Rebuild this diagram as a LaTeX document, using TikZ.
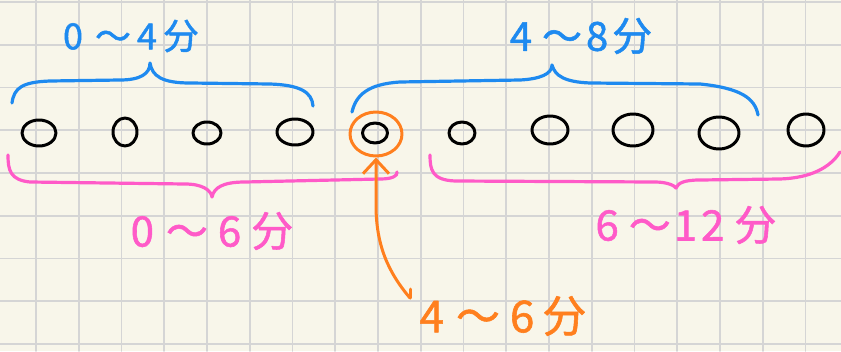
\documentclass[tikz,border=0pt]{standalone}
\usepackage{fontspec}
\newfontfamily\cjk[FakeBold=1.3]{Noto Sans CJK SC}
\usetikzlibrary{arrows.meta,shapes.geometric}
\definecolor{bgc}{HTML}{F8F6EA}
\definecolor{gridc}{HTML}{D5D5D5}
\definecolor{bluec}{HTML}{1E8AF0}
\definecolor{pinkc}{HTML}{FF5AC8}
\definecolor{orangec}{HTML}{FF7F1E}
\begin{document}
\begin{tikzpicture}[x=1pt,y=-1pt,line cap=round,line join=round,
  dot/.style={ellipse,draw=black,line width=3pt,inner sep=0pt},
  bracestroke/.style={line width=3.2pt},
  lbl/.style={inner sep=0pt,font=\cjk\fontsize{#1}{#1}\selectfont},
]
\useasboundingbox (0,0) rectangle (841,351);
\fill[bgc] (0,0) rectangle (841,351);
\foreach \i in {0,...,18} \draw[gridc,line width=1.8pt] ({36+42.75*\i},0) -- ({36+42.75*\i},351);
\foreach \j in {0,...,8} \draw[gridc,line width=1.8pt] (0,{2+42.75*\j}) -- (841,{2+42.75*\j});

% dots
\node[dot,minimum width=34pt,minimum height=26pt] (d1) at (39,133) {};
\node[dot,minimum width=24pt,minimum height=28pt] (d2) at (125,132) {};
\node[dot,minimum width=28pt,minimum height=22pt] (d3) at (207,133) {};
\node[dot,minimum width=36pt,minimum height=26pt] (d4) at (295,132) {};
\node[dot,minimum width=25pt,minimum height=20pt] (d5) at (375,133) {};
\node[dot,minimum width=26pt,minimum height=22pt] (d6) at (462,133) {};
\node[dot,minimum width=36pt,minimum height=28pt] (d7) at (550,130) {};
\node[dot,minimum width=40pt,minimum height=32pt] (d8) at (633,130) {};
\node[dot,minimum width=40pt,minimum height=32pt] (d9) at (719,133) {};
\node[dot,minimum width=36pt,minimum height=32pt] (d10) at (806,130) {};
\node[ellipse,draw=orangec,line width=3pt,inner sep=0pt,minimum width=52pt,minimum height=44pt] (oc) at (376,134) {};

% blue braces
\draw[bluec,bracestroke] (12,103) .. controls (14,88) and (22,82) .. (50,81)
  -- (120,80) .. controls (140,80) and (150,74) .. (150,63)
  .. controls (152,76) and (162,83) .. (190,83) -- (270,84)
  .. controls (300,85) and (312,92) .. (313,106);
\draw[bluec,bracestroke] (352,112) .. controls (356,95) and (368,84) .. (400,82)
  -- (520,80) .. controls (540,79) and (552,74) .. (552,65)
  .. controls (555,76) and (565,82) .. (590,83) -- (700,84)
  .. controls (740,88) and (755,98) .. (758,115);

% pink braces
\draw[pinkc,bracestroke] (8,155) .. controls (8,170) and (10,180) .. (30,182)
  -- (185,184) .. controls (202,184) and (211,190) .. (212,197)
  .. controls (214,188) and (222,182) .. (245,182) -- (380,179)
  .. controls (392,179) and (398,176) .. (397,172);
\draw[pinkc,bracestroke] (430,155) .. controls (430,170) and (432,180) .. (455,181)
  -- (655,182) .. controls (668,182) and (675,186) .. (676,188)
  .. controls (678,183) and (684,180) .. (700,180) -- (780,179)
  .. controls (810,178) and (830,168) .. (840,152);

% labels
\node[lbl=36,text=bluec] (t04) at (131,36) {0\hspace{12pt}～\hspace{6pt}4\hspace{6pt}分};
\node[lbl=40,text=bluec] (t48) at (581,36) {4\hspace{10pt}～\hspace{4pt}8\hspace{4pt}分};
\node[lbl=42,text=pinkc] (t06) at (212,231) {0\hspace{12pt}～\hspace{10pt}6\hspace{10pt}分};
\node[lbl=42,text=pinkc] (t612) at (686,225) {6\hspace{10pt}～\hspace{3pt}1\hspace{4pt}2\hspace{10pt}分};
\node[lbl=44,text=orangec] (t46) at (503,316) {4\hspace{12pt}～\hspace{10pt}6\hspace{8pt}分};

% orange arrow
\coordinate (oe) at (410,298);
\draw[orangec,line width=3pt,-{Straight Barb[length=14pt,width=26pt]}]
  (oe) .. controls (388,272) and (376,245) .. (376,205) -- (oc.south);
\draw[orangec,line width=3pt] (oe) -- ++(0,-9);
\end{tikzpicture}
\end{document}
